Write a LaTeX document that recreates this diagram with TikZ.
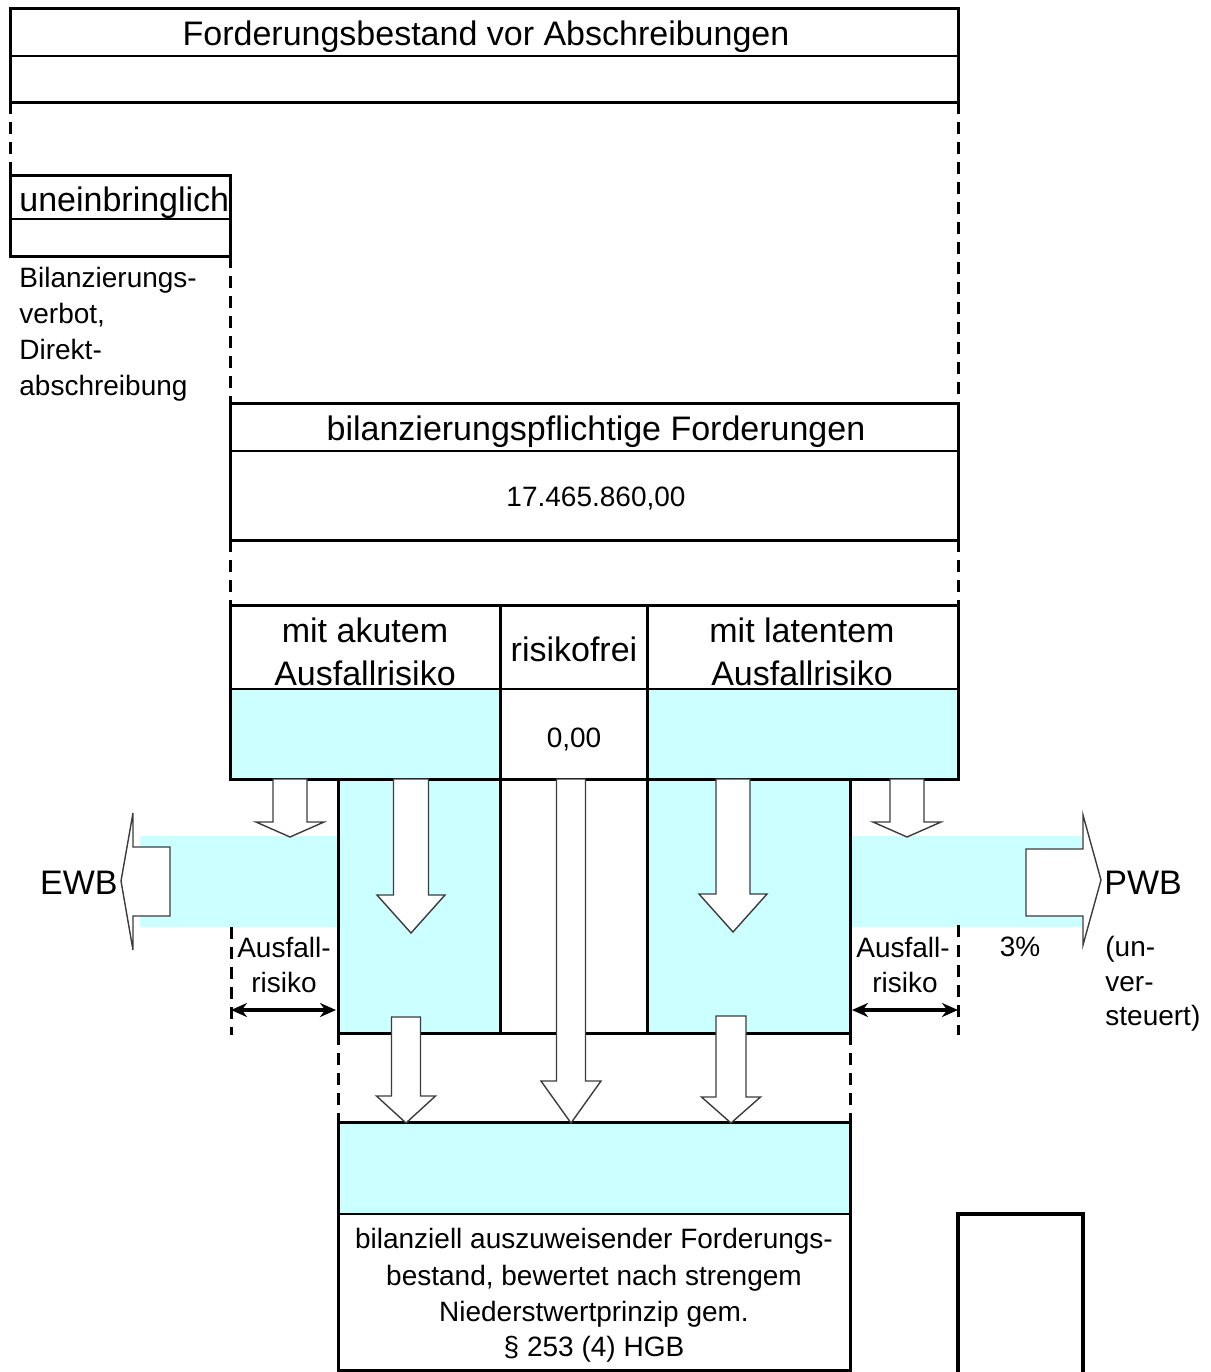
\documentclass[tikz,border=0pt]{standalone}
\usepackage{fontspec}
\setmainfont{Liberation Sans}
\usetikzlibrary{arrows.meta}
\definecolor{lcyan}{RGB}{204,255,255}
\definecolor{agray}{RGB}{60,60,60}
\newcommand\blkdown[6]{%
  \draw[blockarrow] ({#1-#5},#2) -- ({#1-#5},#3) -- ({#1-#6},#3) -- (#1,#4)
    -- ({#1+#6},#3) -- ({#1+#5},#3) -- ({#1+#5},#2) -- cycle;}
\tikzset{
  thickbox/.style={line width=1.5pt},
  thinline/.style={line width=0.6pt},
  dashln/.style={line width=1.5pt, dash pattern=on 6pt off 4pt},
  blockarrow/.style={fill=white, draw=agray, line width=0.7pt, line join=miter},
  cyanfill/.style={fill=lcyan},
  bigtxt/.style={font=\fontsize{17}{21}\selectfont, inner sep=0pt, anchor=base},
  smalltxt/.style={font=\fontsize{14}{18}\selectfont, inner sep=0pt, anchor=base},
  dimarrow/.style={line width=1.6pt, {Stealth[length=8pt,width=7pt]}-{Stealth[length=8pt,width=7pt]}},
}
\begin{document}
\begin{tikzpicture}[x=0.5pt, y=-0.5pt]
\useasboundingbox (0,0) rectangle (1211,1372);
% cyan band
\fill[lcyan] (140,836) rectangle (1082,927);
% fills
\fill[lcyan] (230,689) rectangle (500,779);
\fill[lcyan] (647,689) rectangle (958,779);
\fill[lcyan] (338,779) rectangle (500,1033);
\fill[white] (500,779) rectangle (647,1033);
\fill[lcyan] (647,779) rectangle (850,1033);
\fill[lcyan] (338,1122) rectangle (850,1214);
% top box
\draw[thickbox] (10,8) rectangle (958,102);
\draw[thinline] (10,56) -- (958,56);
% uneinbringlich box
\draw[thickbox] (10,175) rectangle (230,256);
\draw[thinline] (10,219) -- (230,219);
% bilanzierungspflichtige box
\draw[thickbox] (230,403) rectangle (958,540);
\draw[thinline] (230,451) -- (958,451);
% three column box
\draw[thickbox] (230,605) rectangle (958,779);
\draw[thinline] (230,689) -- (958,689);
\draw[thickbox] (500,605) -- (500,1033);
\draw[thickbox] (647,605) -- (647,1033);
% middle boxes
\draw[thickbox] (338,779) rectangle (850,1033);
% bottom box
\draw[thickbox] (338,1370) -- (338,1122) -- (850,1122) -- (850,1370) -- cycle;
\draw[thinline] (338,1214) -- (850,1214);
% small right box
\draw[line width=2.4pt] (958,1375) -- (958,1214) -- (1083,1214) -- (1083,1375);
% dashed lines
\draw[dashln] (10,102) -- (10,175);
\draw[dashln] (958,102) -- (958,403);
\draw[dashln] (230,256) -- (230,403);
\draw[dashln] (230,540) -- (230,605);
\draw[dashln] (958,540) -- (958,605);
\draw[dashln] (231,927) -- (231,1035);
\draw[dashln] (958,925) -- (958,1035);
\draw[dashln] (338,1033) -- (338,1122);
\draw[dashln] (850,1033) -- (850,1122);
% block arrows
\blkdown{290}{779}{822}{837}{17}{34}
\blkdown{907}{779}{822}{837}{17}{34}
\blkdown{411}{779}{895}{933}{17.5}{34}
\blkdown{733}{779}{894}{932}{17}{34}
\blkdown{571}{779}{1081}{1123}{14.5}{30}
\blkdown{406}{1017}{1096}{1123}{14.5}{29.5}
\blkdown{731}{1016}{1097}{1123}{15}{29.5}
% EWB / PWB arrows
\draw[blockarrow] (170,847) -- (133,847) -- (133,813) -- (121,881) -- (133,950) -- (133,916) -- (170,916) -- cycle;
\draw[blockarrow] (1026,849) -- (1083,849) -- (1083,815) -- (1101,880) -- (1083,945) -- (1083,916) -- (1026,916) -- cycle;
% dimension arrows
\coordinate (dl1) at (231,1010);
\coordinate (dl2) at (336,1010);
\coordinate (dr1) at (852,1010);
\coordinate (dr2) at (958,1010);
\draw[dimarrow] (dl1) -- (dl2);
\draw[dimarrow] (dr1) -- (dr2);
% texts
\node[bigtxt] (title) at (486,45) {Forderungsbestand vor Abschreibungen};
\node[bigtxt, anchor=base west] (unein) at (19,211) {uneinbringlich};
\node[smalltxt, anchor=base west] (bv1) at (19,287) {Bilanzierungs-};
\node[smalltxt, anchor=base west] (bv2) at (19,323) {verbot,};
\node[smalltxt, anchor=base west] (bv3) at (19,359) {Direkt-};
\node[smalltxt, anchor=base west] (bv4) at (19,395) {abschreibung};
\node[bigtxt] (bpf) at (596,440) {bilanzierungspflichtige Forderungen};
\node[smalltxt] (bpfv) at (596,506) {17.465.860,00};
\node[bigtxt] (ak1) at (365,642) {mit akutem};
\node[bigtxt] (ak2) at (365,685) {Ausfallrisiko};
\node[bigtxt] (rf) at (574,661) {risikofrei};
\node[bigtxt] (la1) at (802,642) {mit latentem};
\node[bigtxt] (la2) at (802,685) {Ausfallrisiko};
\node[smalltxt] (rfv) at (574,747) {0,00};
\node[bigtxt, anchor=base east] (ewb) at (118,894) {EWB};
\node[bigtxt, anchor=base west] (pwb) at (1104,894) {PWB};
\node[smalltxt] (afl1) at (284,957) {Ausfall-};
\node[smalltxt] (afl2) at (284,992) {risiko};
\node[smalltxt] (afr1) at (903,957) {Ausfall-};
\node[smalltxt] (afr2) at (905,992) {risiko};
\node[smalltxt] (pct) at (1020,956) {3\%};
\node[smalltxt, anchor=base west] (uv1) at (1105,956) {(un-};
\node[smalltxt, anchor=base west] (uv2) at (1105,991) {ver-};
\node[smalltxt, anchor=base west] (uv3) at (1105,1025) {steuert)};
\node[smalltxt] (bt1) at (594,1248) {bilanziell auszuweisender Forderungs-};
\node[smalltxt] (bt2) at (594,1285) {bestand, bewertet nach strengem};
\node[smalltxt] (bt3) at (594,1321) {Niederstwertprinzip gem.};
\node[smalltxt] (bt4) at (594,1356) {\S\ 253 (4) HGB};
\end{tikzpicture}
\end{document}
